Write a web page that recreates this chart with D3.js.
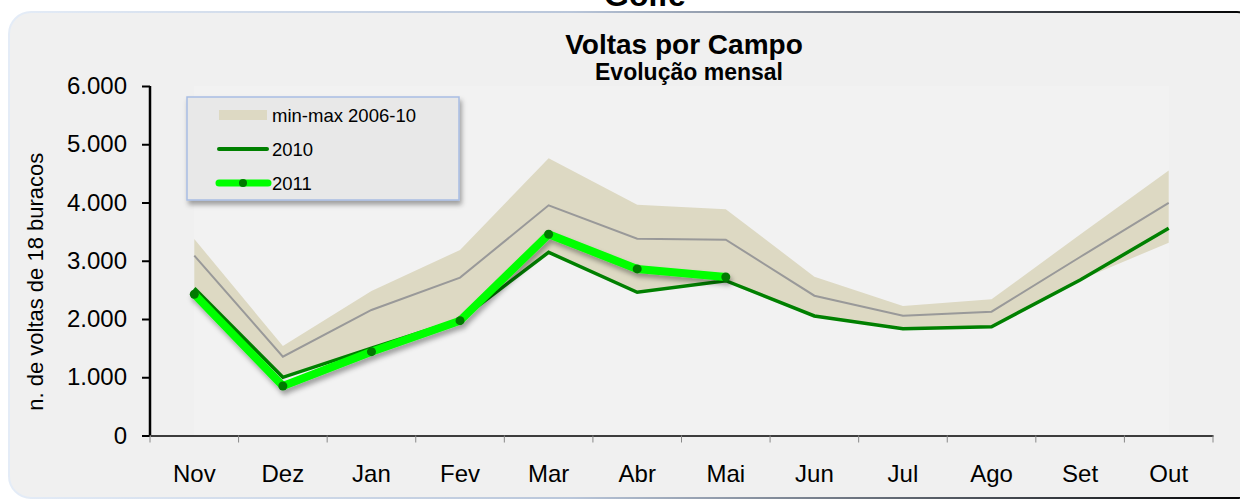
<!DOCTYPE html>
<html>
<head>
<meta charset="utf-8">
<script src="https://cdn.jsdelivr.net/npm/d3@7"></script>
<style>
  body { margin: 0; background: #fff; }
  text { font-family: "Liberation Sans", Arial, sans-serif; }
</style>
</head>
<body>
<div id="chart"></div>
<script>
// Data
const months = ['Nov', 'Dez', 'Jan', 'Fev', 'Mar', 'Abr', 'Mai', 'Jun', 'Jul', 'Ago', 'Set', 'Out']
const minVals = [2450, 990, 1500, 1970, 3145, 2458, 2658, 2052, 1834, 1868, 2670, 3310]
const maxVals = [3373, 1536, 2481, 3185, 4758, 3963, 3883, 2727, 2223, 2338, 3450, 4550]
const avgVals = [3087, 1353, 2155, 2710, 3952, 3379, 3362, 2400, 2057, 2126, 3064, 3995]
const vals2010 = [2527, 999, 1500, 1990, 3145, 2458, 2658, 2052, 1834, 1868, 2670, 3557]
const vals2011 = [2424, 850, 1439, 1971, 3454, 2860, 2721]
const yTicks = [0, 1000, 2000, 3000, 4000, 5000, 6000]

const width = 1240
const height = 504
const margins = { left: 150, right: 27, top: 86, bottom: 68 }

const svg = d3.select('#chart')
  .append('svg')
  .attr('width', width)
  .attr('height', height)

const defs = svg.append('defs')
const grad = defs.append('linearGradient').attr('id', 'border').attr('x1', 0).attr('x2', 1)
grad.append('stop').attr('offset', '0%').attr('stop-color', '#e4ecf7')
grad.append('stop').attr('offset', '45%').attr('stop-color', '#b9c6da')
grad.append('stop').attr('offset', '100%').attr('stop-color', '#000')

const shadow = defs.append('filter').attr('id', 'shadow')
  .attr('x', '-10%').attr('y', '-10%').attr('width', '130%').attr('height', '140%')
shadow.append('feDropShadow')
  .attr('dx', 2).attr('dy', 4).attr('stdDeviation', 2.5)
  .attr('flood-color', '#000').attr('flood-opacity', 0.35)

// title above the box (cut by the top edge, as in the original)
svg.append('text')
  .attr('x', 645).attr('y', 6)
  .attr('text-anchor', 'middle')
  .style('font-size', '32px').style('font-weight', 'bold')
  .text('Golfe')

// chart box
svg.append('rect')
  .attr('x', 9).attr('y', 12)
  .attr('width', 1250).attr('height', 486)
  .attr('rx', 22)
  .attr('fill', '#f0f0f0')
  .attr('stroke', 'url(#border)')
  .attr('stroke-width', 2)

svg.append('text')
  .attr('x', 684).attr('y', 54)
  .attr('text-anchor', 'middle')
  .style('font-size', '28px').style('font-weight', 'bold')
  .text('Voltas por Campo')

svg.append('text')
  .attr('x', 689).attr('y', 80)
  .attr('text-anchor', 'middle')
  .style('font-size', '23px').style('font-weight', 'bold')
  .text('Evolução mensal')

// Scales
const xScale = d3.scaleBand()
  .domain(months)
  .range([margins.left, width - margins.right])

const yScale = d3.scaleLinear()
  .domain([0, 6000])
  .range([height - margins.bottom - 0.5, margins.top])

const xc = i => xScale(months[i]) + xScale.bandwidth() / 2

// plot area tint between first and last category
svg.append('rect')
  .attr('x', xc(0)).attr('y', margins.top)
  .attr('width', xc(months.length - 1) - xc(0))
  .attr('height', yScale(0) - margins.top)
  .attr('fill', '#f2f2f2')

// band min-max
const area = d3.area()
  .x((d, i) => xc(i))
  .y0((d, i) => yScale(minVals[i]))
  .y1(d => yScale(d))

svg.append('path')
  .datum(maxVals)
  .attr('d', area)
  .attr('fill', '#ddd9c3')

const line = d3.line()
  .x((d, i) => xc(i))
  .y(d => yScale(d))

svg.append('path')
  .datum(avgVals)
  .attr('d', line)
  .attr('fill', 'none')
  .attr('stroke', '#999')
  .attr('stroke-width', 2)

svg.append('path')
  .datum(vals2010)
  .attr('d', line)
  .attr('fill', 'none')
  .attr('stroke', '#008000')
  .attr('stroke-width', 3.5)

const g2011 = svg.append('g').attr('filter', 'url(#shadow)')
g2011.append('path')
  .datum(vals2011)
  .attr('d', line)
  .attr('fill', 'none')
  .attr('stroke', '#00ff00')
  .attr('stroke-width', 8)
  .attr('stroke-linejoin', 'round')

g2011.selectAll('circle')
  .data(vals2011)
  .join('circle')
  .attr('cx', (d, i) => xc(i))
  .attr('cy', d => yScale(d))
  .attr('r', 4.5)
  .attr('fill', '#007a00')

// Axes
const yAxis = d3.axisLeft(yScale)
  .tickValues(yTicks)
  .tickSize(8)
  .tickPadding(15)
  .tickFormat(d => d3.format(',')(d).replace(/,/g, '.'))

const yG = svg.append('g')
  .attr('transform', `translate(${margins.left}, 0)`)
  .call(yAxis)
yG.select('.domain').attr('stroke', '#000').attr('stroke-width', 2.5).attr('d', `M0,${yScale(6000)}V${yScale(0)}`)
yG.selectAll('.tick line').attr('stroke', '#000').attr('stroke-width', 2)
yG.selectAll('.tick text')
  .style('font-size', '24px')
  .style('font-family', '"Liberation Sans", Arial, sans-serif')
  .attr('fill', '#000')

const xAxis = d3.axisBottom(xScale).tickSize(0).tickPadding(29)
const xG = svg.append('g')
  .attr('transform', `translate(0, ${yScale(0)})`)
  .call(xAxis)
xG.select('.domain').attr('stroke', '#000').attr('stroke-width', 1.5)
xG.selectAll('.tick text')
  .style('font-size', '24px')
  .style('font-family', '"Liberation Sans", Arial, sans-serif')
  .attr('fill', '#000')

// boundary ticks between categories
xG.selectAll('.bt')
  .data(d3.range(months.length + 1))
  .join('line')
  .attr('x1', i => margins.left + i * xScale.bandwidth())
  .attr('x2', i => margins.left + i * xScale.bandwidth())
  .attr('y1', 0).attr('y2', 7)
  .attr('stroke', '#888').attr('stroke-width', 1)

svg.append('text')
  .attr('transform', `translate(43, ${(yScale(0) + yScale(6000)) / 2 + 21}) rotate(-90)`)
  .attr('text-anchor', 'middle')
  .style('font-size', '22px')
  .text('n. de voltas de 18 buracos')

// Legend
const leg = svg.append('g').attr('transform', 'translate(187, 97)')
leg.append('rect')
  .attr('width', 272).attr('height', 103)
  .attr('fill', '#e8e8e8')
  .attr('stroke', '#a8bde3').attr('stroke-width', 1.5)
  .attr('filter', 'url(#shadow)')

const legItems = ['min-max 2006-10', '2010', '2011']
const rowY = [18, 52, 86]
leg.selectAll('.lt')
  .data(legItems)
  .join('text')
  .attr('x', 85)
  .attr('y', (d, i) => rowY[i] + 7)
  .style('font-size', '18.5px')
  .text(d => d)

leg.append('rect').attr('x', 32).attr('y', rowY[0] - 5).attr('width', 48).attr('height', 10).attr('fill', '#ddd9c3')
leg.append('line').attr('x1', 32).attr('x2', 80).attr('y1', rowY[1]).attr('y2', rowY[1])
  .attr('stroke', '#008000').attr('stroke-width', 4).attr('stroke-linecap', 'round')
leg.append('line').attr('x1', 32).attr('x2', 81).attr('y1', rowY[2]).attr('y2', rowY[2])
  .attr('stroke', '#00ff00').attr('stroke-width', 7).attr('stroke-linecap', 'round')
leg.append('circle').attr('cx', 56).attr('cy', rowY[2]).attr('r', 4).attr('fill', '#007a00')
</script>
</body>
</html>
